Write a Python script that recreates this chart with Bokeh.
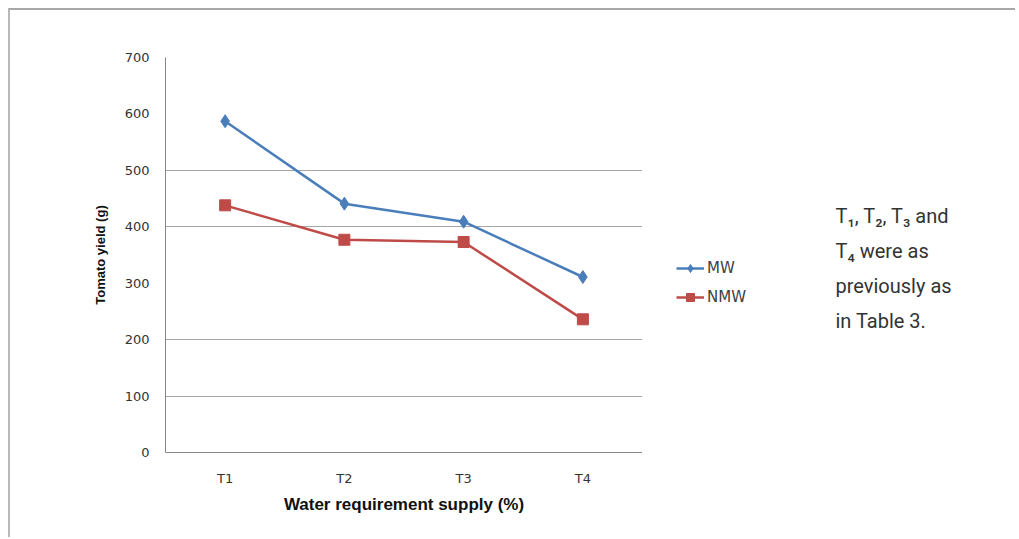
from bokeh.plotting import figure
from bokeh.models import FactorRange, Range1d, Legend, LegendItem, FixedTicker, Label
from bokeh.layouts import row
from bokeh.embed import file_html
from bokeh.resources import INLINE

# ---- data ----
treatments = ["T1", "T2", "T3", "T4"]
mw_yield = [587, 441, 409, 311]
nmw_yield = [438, 377, 373, 236]
y_tick_values = [0, 100, 200, 300, 400, 500, 600, 700]
grid_levels = [100, 200, 400, 500, 700]
note_lines = ["T\u2081, T\u2082, T\u2083 and", "T\u2084 were as", "previously as", "in Table 3."]

BLUE = "#4a7ebb"
RED = "#be4b48"
TICK_FONT = "DejaVu Sans"
TITLE_FONT = "Liberation Sans"

# ---- main chart ----
p = figure(
    width=632, height=527,
    x_range=FactorRange(*treatments, range_padding=0),
    y_range=Range1d(0, 700),
    output_backend="svg", toolbar_location=None,
    min_border_left=155, min_border_right=0,
    min_border_top=47, min_border_bottom=85,
)
p.outline_line_color = None
p.background_fill_color = "white"
p.border_fill_color = "white"

p.xgrid.visible = False
p.ygrid.ticker = FixedTicker(ticks=grid_levels)
p.ygrid.grid_line_color = "#a6a6a6"
p.ygrid.grid_line_width = 1

p.yaxis.ticker = FixedTicker(ticks=y_tick_values)
for ax in (p.xaxis[0], p.yaxis[0]):
    ax.axis_line_color = "#868686"
    ax.axis_line_width = 1
    ax.major_tick_line_color = None
    ax.minor_tick_line_color = None
    ax.major_label_text_font = TICK_FONT
    ax.major_label_text_font_size = "13px"
    ax.major_label_text_color = "#333333"
    ax.axis_label_text_font = TITLE_FONT
    ax.axis_label_text_font_style = "bold"
    ax.axis_label_text_color = "#111111"

p.yaxis.axis_label = "Tomato yield (g)"
p.yaxis.axis_label_text_font_size = "13px"
p.yaxis.major_label_standoff = 10
p.yaxis.axis_label_standoff = 14
p.xaxis.axis_label = "Water requirement supply (%)"
p.xaxis.axis_label_text_font_size = "17px"
p.xaxis.major_label_standoff = 12
p.xaxis.axis_label_standoff = 6

p.line(treatments, mw_yield, line_color=BLUE, line_width=2.5)
p.scatter(treatments, mw_yield, marker="diamond", size=13, color=BLUE)
p.line(treatments, nmw_yield, line_color=RED, line_width=2.5)
p.scatter(treatments, nmw_yield, marker="square", size=11, color=RED)

# ---- side panel: legend + note ----
side = figure(
    width=373, height=527,
    x_range=FactorRange(*treatments), y_range=Range1d(10000, 10001),
    output_backend="svg", toolbar_location=None,
    min_border_left=0, min_border_right=0, min_border_top=0, min_border_bottom=0,
)
side.axis.visible = False
side.grid.visible = False
side.outline_line_color = None
side.border_fill_color = "white"
side.background_fill_color = "white"

k1 = side.line(treatments, mw_yield, line_color=BLUE, line_width=2.5)
m1 = side.scatter(treatments, mw_yield, marker="diamond", size=13, color=BLUE)
k2 = side.line(treatments, nmw_yield, line_color=RED, line_width=2.5)
m2 = side.scatter(treatments, nmw_yield, marker="square", size=11, color=RED)

legend = Legend(
    items=[LegendItem(label="MW", renderers=[k1, m1]),
           LegendItem(label="NMW", renderers=[k2, m2])],
    location=(34, 145), padding=0, margin=0, spacing=9,
    glyph_width=28, glyph_height=20, label_standoff=3,
    border_line_color=None, background_fill_alpha=0,
    label_text_font=TICK_FONT, label_text_font_size="15px", label_text_color="#404040",
)
side.add_layout(legend)

for i, txt in enumerate(note_lines):
    side.add_layout(Label(
        x=193, y=237 - 35 * i, x_units="screen", y_units="screen",
        text=txt, text_font="Roboto", text_font_size="20px",
        text_color="#333333", text_baseline="middle", text_align="left",
    ))

layout = row(p, side, styles={"border-top": "2px solid #a8a8a8", "border-left": "2px solid #b8b8b8",
                              "margin-left": "8px", "margin-top": "8px"})

open("out.html", "w").write(file_html(layout, INLINE))
